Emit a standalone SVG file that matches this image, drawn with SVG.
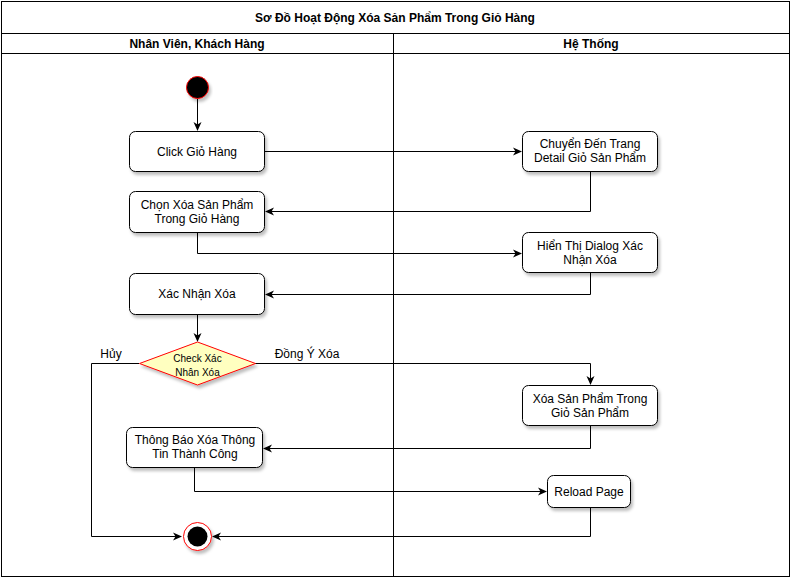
<svg xmlns="http://www.w3.org/2000/svg" width="792" height="580" viewBox="0 0 792 580">
<defs>
<filter id="sh" x="-20%" y="-20%" width="140%" height="150%">
<feDropShadow dx="2" dy="3" stdDeviation="1.5" flood-color="#000" flood-opacity="0.25"/>
</filter>
<marker id="ar" markerWidth="10" markerHeight="10" refX="8" refY="5" orient="auto" markerUnits="userSpaceOnUse">
<path d="M0,1 L9,5 L0,9 L2.5,5 Z" fill="#000"/>
</marker>
<style>
text{font-family:"Liberation Sans",Arial,sans-serif;font-size:12px;fill:#000;text-anchor:middle}
.hd{font-weight:bold}
.box{fill:#fff;stroke:#000;stroke-width:1;filter:url(#sh)}
.ln{fill:none;stroke:#000;stroke-width:1;marker-end:url(#ar)}
.frame{fill:#fff;stroke:#000;stroke-width:1}
</style>
</defs>
<g id="pool">
<rect class="frame" x="1.5" y="1.5" width="788" height="575"/>
<line x1="1.5" y1="33.5" x2="789.5" y2="33.5" stroke="#000"/>
<line x1="1.5" y1="53.5" x2="789.5" y2="53.5" stroke="#000"/>
<line x1="393.5" y1="33.5" x2="393.5" y2="576.5" stroke="#000"/>
<text class="hd" x="395" y="22">Sơ Đồ Hoạt Động Xóa Sản Phẩm Trong Giỏ Hàng</text>
<text class="hd" x="197" y="48">Nhân Viên, Khách Hàng</text>
<text class="hd" x="591" y="48">Hệ Thống</text>
</g>
<g id="connectors">
<path class="ln" d="M197.5,99 L197.5,130"/>
<path class="ln" d="M265,151.5 L521,151.5"/>
<path class="ln" d="M590.5,172 L590.5,211.5 L266,211.5"/>
<path class="ln" d="M197.5,233 L197.5,253.5 L521,253.5"/>
<path class="ln" d="M590.5,273 L590.5,294.5 L266,294.5"/>
<path class="ln" d="M197.5,315 L197.5,341"/>
<path class="ln" d="M255,363.5 L590.5,363.5 L590.5,384"/>
<path class="ln" d="M139,363.5 L91.5,363.5 L91.5,536.5 L181,536.5"/>
<path class="ln" d="M590.5,426 L590.5,448.5 L264,448.5"/>
<path class="ln" d="M194.5,468 L194.5,491.5 L546,491.5"/>
<path class="ln" d="M590.5,507 L590.5,536.5 L213,536.5"/>
<text x="111" y="358">Hủy</text>
<text x="307" y="358">Đồng Ý Xóa</text>
</g>
<g id="start">
<circle cx="197.5" cy="87.5" r="11" fill="#000" stroke="#ff0000" stroke-width="1" filter="url(#sh)"/>
</g>
<g id="click">
<rect class="box" x="129.5" y="131.5" width="135" height="40" rx="6"/>
<text x="197" y="155.5">Click Giỏ Hàng</text>
</g>
<g id="chon">
<rect class="box" x="129.5" y="191.5" width="135" height="41" rx="6"/>
<text x="197" y="209">Chọn Xóa Sản Phẩm</text>
<text x="197" y="223">Trong Giỏ Hàng</text>
</g>
<g id="xacnhan">
<rect class="box" x="129.5" y="273.5" width="135" height="41" rx="6"/>
<text x="197" y="298">Xác Nhận Xóa</text>
</g>
<g id="check">
<path d="M197.5,342 L255.5,363.5 L197.5,385 L139.5,363.5 Z" fill="#ffffc0" stroke="#ff0000" stroke-width="1" filter="url(#sh)"/>
<text x="197.5" y="362" style="font-size:10px">Check Xác</text>
<text x="197.5" y="376" style="font-size:10px">Nhân Xóa</text>
</g>
<g id="thongbao">
<rect class="box" x="126.5" y="427.5" width="136" height="40" rx="6"/>
<text x="195" y="444">Thông Báo Xóa Thông</text>
<text x="195" y="458">Tin Thành Công</text>
</g>
<g id="end">
<circle cx="197.5" cy="536.5" r="14" fill="#fff" stroke="#ff0000" stroke-width="1" filter="url(#sh)"/>
<circle cx="197.5" cy="536.5" r="10" fill="#000"/>
</g>
<g id="chuyen">
<rect class="box" x="522.5" y="131.5" width="135" height="40" rx="6"/>
<text x="590" y="148">Chuyển Đến Trang</text>
<text x="590" y="162">Detail Giỏ Sản Phẩm</text>
</g>
<g id="hienthi">
<rect class="box" x="522.5" y="232.5" width="135" height="40" rx="6"/>
<text x="590" y="250">Hiển Thị Dialog Xác</text>
<text x="590" y="264">Nhận Xóa</text>
</g>
<g id="xoasp">
<rect class="box" x="522.5" y="385.5" width="135" height="40" rx="6"/>
<text x="590" y="403">Xóa Sản Phẩm Trong</text>
<text x="590" y="417">Giỏ Sản Phẩm</text>
</g>
<g id="reload">
<rect class="box" x="547.5" y="475.5" width="83" height="32" rx="6"/>
<text x="589" y="495.5">Reload Page</text>
</g>
</svg>
